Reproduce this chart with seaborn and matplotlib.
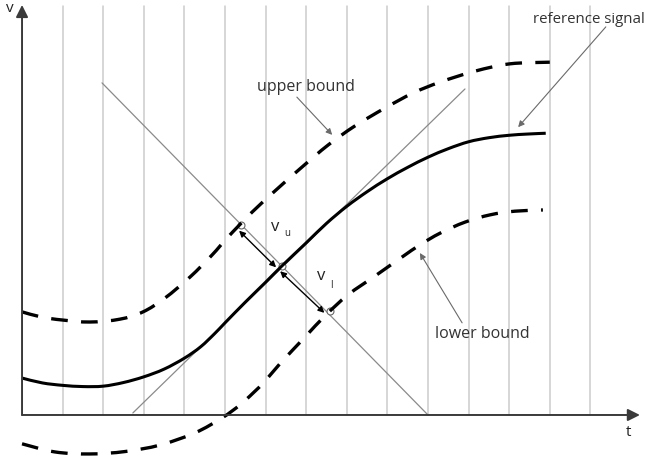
import matplotlib
matplotlib.use("Agg")
import matplotlib.pyplot as plt
from matplotlib.path import Path
from matplotlib.patches import PathPatch
import seaborn as sns
import numpy as np
import pandas as pd

# Reference signal and tolerance band (t in grid units, v in the same units)
ref_t = [0, 0.5, 1, 1.5, 2, 2.5, 3, 3.5, 4, 4.4, 4.75, 5, 5.5, 6, 6.4, 7, 7.5, 8,
         8.5, 9, 9.5, 10, 10.5, 11, 11.5, 12, 12.45, 12.9]
ref_v = [0.91, 0.79, 0.73, 0.70, 0.71, 0.80, 0.94, 1.13, 1.40, 1.68, 2.01, 2.27,
         2.78, 3.27, 3.67, 4.24, 4.72, 5.14, 5.50, 5.82, 6.10, 6.35, 6.56, 6.73,
         6.83, 6.89, 6.92, 6.94]

upper_t = [0, 0.49, 0.99, 1.67, 2.41, 2.98, 3.52, 4.14, 4.68, 5.07, 5.67, 6.31,
           6.90, 7.54, 8.20, 8.94, 9.63, 10.30, 11.16, 12.02, 13.00]
upper_v = [2.54, 2.41, 2.34, 2.29, 2.36, 2.54, 2.88, 3.40, 3.94, 4.38, 5.00, 5.59,
           6.11, 6.65, 7.12, 7.56, 7.93, 8.20, 8.47, 8.65, 8.69]

lower_t = [0, 0.81, 1.67, 2.54, 3.40, 4.26, 4.93, 5.37, 5.69, 5.99, 6.35, 6.97,
           7.46, 8.03, 8.69, 9.36, 9.80, 10.30, 10.91, 11.53, 12.14, 12.83]
lower_v = [-0.71, -0.91, -0.96, -0.90, -0.74, -0.44, -0.07, 0.25, 0.54, 0.84, 1.26,
           1.92, 2.44, 2.96, 3.42, 3.89, 4.19, 4.48, 4.75, 4.93, 5.02, 5.05]

# Construction lines: tangent at the projection point and its normal
tangent_t = [2.73, 10.91]
tangent_v = [0.05, 8.03]
normal_t = [1.97, 10.0]
normal_v = [8.18, 0.0]

# Feet of the normal on upper bound, reference and lower bound
foot_t = [5.39, 6.40, 7.59]
foot_v = [4.68, 3.68, 2.56]

grid_t = list(range(1, 15))
t_max, v_max = 15.22, 10.10
grid_top = 10.07


def smooth_line(ax, line, dashes=None):
    """Redraw a polyline from the axes as a smooth Bezier curve through its vertices."""
    pts = np.asarray(line.get_xydata(), dtype=float)
    ext = np.vstack([pts[0], pts, pts[-1]])
    verts = [pts[0]]
    codes = [Path.MOVETO]
    for i in range(len(pts) - 1):
        p0, p1, p2, p3 = ext[i], ext[i + 1], ext[i + 2], ext[i + 3]
        verts += [p1 + (p2 - p0) / 6.0, p2 - (p3 - p1) / 6.0, p2]
        codes += [Path.CURVE4] * 3
    ls = "-" if dashes is None else (0, dashes)
    patch = PathPatch(Path(verts, codes), fill=False, edgecolor=line.get_color(),
                      lw=line.get_linewidth(), linestyle=ls, capstyle="butt",
                      joinstyle="round", zorder=line.get_zorder())
    ax.add_patch(patch)
    line.remove()


sns.set_theme(style="white")
plt.rcParams["font.family"] = ["Open Sans", "DejaVu Sans"]

fig = plt.figure(figsize=(6.46, 4.62), dpi=100)
ax = fig.add_axes([0, 0, 1, 1])
ax.set_xlim(-0.542, 15.369)
ax.set_ylim(-1.158, 10.222)
ax.set_aspect("equal")
ax.axis("off")

# vertical time grid
for g in grid_t:
    ax.plot([g, g], [0, grid_top], color="#cccccc", lw=1.1, zorder=1)

# tangent and normal
ax.plot(tangent_t, tangent_v, color="#8a8a8a", lw=0.9, zorder=2)
ax.plot(normal_t, normal_v, color="#8a8a8a", lw=0.9, zorder=2)

df_ref = pd.DataFrame({"t": ref_t, "v": ref_v})
df_up = pd.DataFrame({"t": upper_t, "v": upper_v})
df_lo = pd.DataFrame({"t": lower_t, "v": lower_v})

sns.lineplot(data=df_ref, x="t", y="v", sort=False, color="black", lw=2.2,
             ax=ax, zorder=3)
smooth_line(ax, ax.lines[-1])
for d in (df_up, df_lo):
    sns.lineplot(data=d, x="t", y="v", sort=False, color="black", lw=2.4,
                 ax=ax, zorder=3)
    smooth_line(ax, ax.lines[-1], dashes=(5, 4))

# axes with arrowheads
ax_col = "#3a3a3a"
ax.annotate("", xy=(t_max, 0), xytext=(0, 0),
            arrowprops=dict(arrowstyle="-|>", lw=1.4, color=ax_col,
                            mutation_scale=18, shrinkA=0, shrinkB=0), zorder=5)
ax.annotate("", xy=(0, v_max), xytext=(0, 0),
            arrowprops=dict(arrowstyle="-|>", lw=1.4, color=ax_col,
                            mutation_scale=18, shrinkA=0, shrinkB=0), zorder=5)
ax.text(-0.30, 10.02, "v", fontsize=11, color="#222222", ha="center", va="center")
ax.text(14.93, -0.44, "t", fontsize=11, color="#222222", ha="center", va="center")

# distance markers along the normal, slightly offset from it
nd = np.array([normal_t[1] - normal_t[0], normal_v[1] - normal_v[0]])
nd = nd / np.hypot(*nd)
off = np.array([-nd[1], nd[0]]) * -0.13
feet = [np.array([a, b]) for a, b in zip(foot_t, foot_v)]
for p0, p1 in ((feet[0], feet[1]), (feet[1], feet[2])):
    ax.annotate("", xy=tuple(p1 + off), xytext=tuple(p0 + off),
                arrowprops=dict(arrowstyle="<|-|>", lw=1.0, color="black",
                                mutation_scale=9, shrinkA=2, shrinkB=2), zorder=4)
ax.plot(foot_t, foot_v, "o", ms=5, mfc="white", mec="#666666", mew=0.8, zorder=2.5)

# distance labels
ax.text(6.14, 4.63, "v", fontsize=12, color="#222222", ha="left", va="center")
ax.text(6.47, 4.47, "u", fontsize=7, color="#222222", ha="left", va="center")
ax.text(7.27, 3.43, "v", fontsize=12, color="#222222", ha="left", va="center")
ax.text(7.59, 3.20, "l", fontsize=7, color="#222222", ha="left", va="center")

# labelled arrows
lab = dict(fontsize=11.5, color="#333333", va="center")
arr = dict(arrowstyle="-|>", lw=0.8, color="#6a6a6a", mutation_scale=9,
           shrinkA=0, shrinkB=0)
ax.text(5.79, 8.08, "upper bound", ha="left", **lab)
ax.annotate("", xy=(7.64, 6.90), xytext=(6.77, 7.83), arrowprops=arr)
ax.text(15.33, 9.73, "reference signal", ha="right",
        **{**lab, "fontsize": 10.8})
ax.annotate("", xy=(12.22, 7.09), xytext=(14.38, 9.56), arrowprops=arr)
ax.text(10.17, 2.00, "lower bound", ha="left", **lab)
ax.annotate("", xy=(9.80, 3.99), xytext=(10.84, 2.27), arrowprops=arr)

fig.savefig("out.png", dpi=100, facecolor="white")
